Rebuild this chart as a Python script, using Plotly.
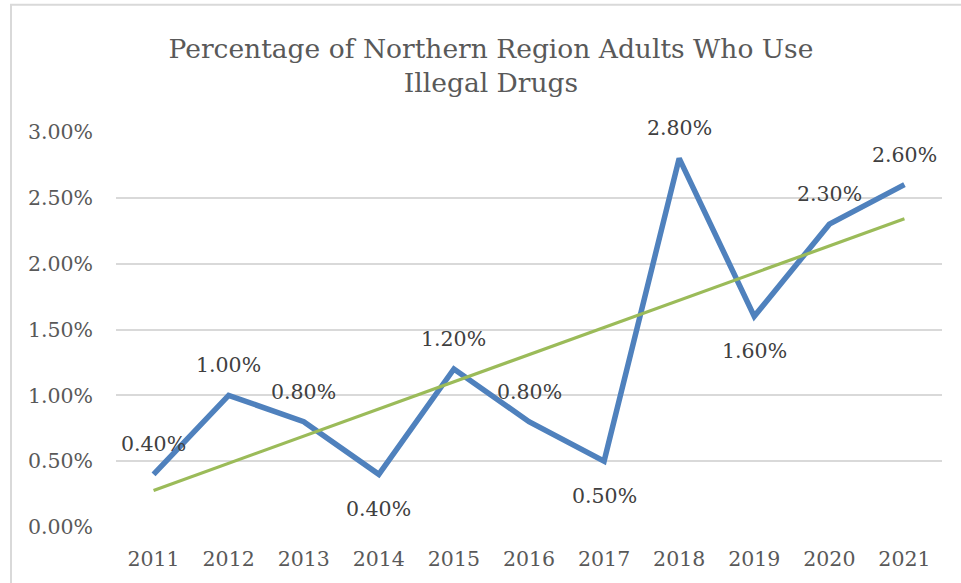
import numpy as np
import plotly.graph_objects as go

# Survey results: share of adults in the Northern Region using illegal drugs
years = ["2011", "2012", "2013", "2014", "2015", "2016", "2017", "2018", "2019", "2020", "2021"]
usage_pct = [0.40, 1.00, 0.80, 0.40, 1.20, 0.80, 0.50, 2.80, 1.60, 2.30, 2.60]
label_side = ["above", "above", "above", "below", "above", "above", "below", "above", "below", "above", "above"]
y_ticks = [0.0, 0.5, 1.0, 1.5, 2.0, 2.5, 3.0]

W, H = 961, 583
L, R, T, B = 116, 19, 132, 54

# Least-squares linear trend across the years
idx = np.arange(len(usage_pct))
slope, intercept = np.polyfit(idx, usage_pct, 1)
trend = intercept + slope * idx

FONT = "DejaVu Serif"
TICK_COLOR = "#595959"
LABEL_COLOR = "#404040"

fig = go.Figure()
fig.add_trace(go.Scatter(
    x=years, y=usage_pct, mode="lines",
    line=dict(color="#4F81BD", width=5.5),
    showlegend=False, hoverinfo="skip",
))
fig.add_trace(go.Scatter(
    x=years, y=list(trend), mode="lines",
    line=dict(color="#9BBB59", width=3.2),
    showlegend=False, hoverinfo="skip",
))

# Data labels placed above or below each point (category index positions)
for i, (v, side) in enumerate(zip(usage_pct, label_side)):
    fig.add_annotation(
        x=i, y=v, xref="x", yref="y",
        text=f"{v:.2f}%", showarrow=False,
        yshift=30 if side == "above" else -35,
        font=dict(family=FONT, size=20.5, color=LABEL_COLOR),
    )

pw = W - L - R
ph = H - T - B

def px_x(p):
    return (p - L) / pw

def px_y(p):
    return (H - B - p) / ph

# Light chart frame
fig.add_shape(
    type="rect", xref="paper", yref="paper",
    x0=px_x(11), x1=px_x(W + 10), y0=px_y(H + 10), y1=px_y(4),
    line=dict(color="#D9D9D9", width=2), fillcolor="rgba(0,0,0,0)", layer="below",
)

fig.update_layout(
    width=W, height=H,
    margin=dict(l=L, r=R, t=T, b=B),
    paper_bgcolor="white", plot_bgcolor="white",
    title=dict(
        text="Percentage of Northern Region Adults Who Use<br>Illegal Drugs",
        x=px_x(491), xanchor="center", xref="paper",
        y=1 - 58 / H, yanchor="middle", yref="container",
        font=dict(family=FONT, size=26.5, color=TICK_COLOR),
    ),
    font=dict(family=FONT, color=TICK_COLOR),
)
fig.update_xaxes(
    type="category", range=[-0.5, len(years) - 0.5],
    showgrid=False, zeroline=False, showline=False,
    ticks="", tickfont=dict(family=FONT, size=20.5, color=TICK_COLOR),
    ticklabelstandoff=17,
)
fig.update_yaxes(
    range=[0, 3.0], tickvals=y_ticks, ticktext=[f"{t:.2f}%" for t in y_ticks],
    showgrid=True, gridcolor="#D9D9D9", gridwidth=1.5, zeroline=False, showline=False,
    ticks="", tickfont=dict(family=FONT, size=20.5, color=TICK_COLOR),
    ticklabelstandoff=22,
)

fig.write_html("out.html")
